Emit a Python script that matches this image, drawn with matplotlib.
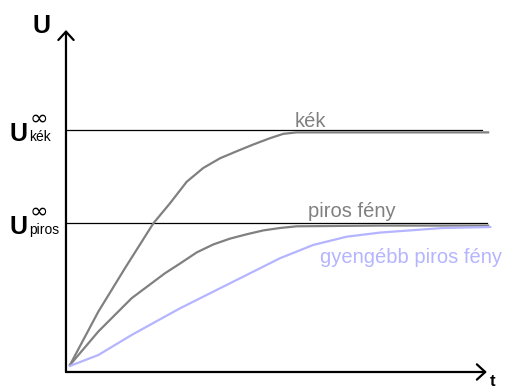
import matplotlib
matplotlib.use("Agg")
import matplotlib.pyplot as plt

plt.rcParams['font.family'] = ['Liberation Sans', 'DejaVu Sans']

# time (arbitrary units) and photovoltage, normalised to the blue saturation value
t_kek = [0.095, 0.769, 1.405, 2.079, 2.476, 2.874, 3.269, 3.667, 4.064, 4.460,
         4.857, 5.174, 5.493, 10.05]
u_kek = [0.029, 0.249, 0.429, 0.614, 0.697, 0.786, 0.843, 0.883, 0.912, 0.940,
         0.966, 0.984, 0.990, 0.990]

t_piros = [0.095, 0.769, 1.564, 2.357, 2.714, 3.112, 3.507, 3.905, 4.302, 4.698,
           5.095, 5.493, 7.476, 10.05]
u_piros = [0.029, 0.167, 0.305, 0.408, 0.448, 0.494, 0.527, 0.551, 0.569, 0.585,
           0.595, 0.602, 0.605, 0.605]

t_gyenge = [0.095, 0.769, 1.564, 2.357, 2.714, 3.507, 4.302, 5.095, 5.888, 6.683,
            7.476, 8.976, 10.1]
u_gyenge = [0.025, 0.070, 0.153, 0.229, 0.263, 0.332, 0.401, 0.470, 0.525, 0.559,
            0.576, 0.595, 0.599]

U_inf_kek = 1.0
U_inf_piros = 0.616
t_end_kek = 9.9
t_end_piros = 10.02

gray = '#808080'
lblue = '#b4b4ff'

fig = plt.figure(figsize=(5.16, 3.9), dpi=100)
ax = fig.add_axes([0, 0, 1, 1])
ax.set_xlim(-1.571, 10.714)
ax.set_ylim(-0.0744, 1.537)
ax.axis('off')

# saturation levels
ax.plot([0, t_end_kek], [U_inf_kek, U_inf_kek], color='black', lw=0.9)
ax.plot([0, t_end_piros], [U_inf_piros, U_inf_piros], color='black', lw=0.9)

# curves
ax.plot(t_kek, u_kek, color=gray, lw=1.6, solid_joinstyle='round')
ax.plot(t_piros, u_piros, color=gray, lw=1.6, solid_joinstyle='round')
ax.plot(t_gyenge, u_gyenge, color=lblue, lw=1.6, solid_joinstyle='round')

# axes with open arrow heads
arrow = dict(arrowstyle='->,head_length=0.6,head_width=0.55', color='black',
             lw=1.6, shrinkA=0, shrinkB=0)
ax.annotate('', xy=(10.02, 0), xytext=(0, 0), arrowprops=arrow)
ax.annotate('', xy=(0, 1.413), xytext=(0, 0), arrowprops=arrow)

ax.text(-0.786, 1.401, 'U', fontsize=18, fontweight='bold', va='baseline')
ax.text(10.1, -0.058, 't', fontsize=12, fontweight='bold', va='baseline')

# axis labels U_inf
px = 1 / 242
for u, sub in [(U_inf_kek, 'kék'), (U_inf_piros, 'piros')]:
    ax.text(-1.333, u - 11 * px, 'U', fontsize=18, fontweight='bold', va='baseline')
    ax.text(-0.86, u + 11 * px, '∞', fontsize=16, va='center', family='DejaVu Sans')
    ax.text(-0.88, u - 11 * px, sub, fontsize=10, va='baseline')

# curve labels
ax.text(5.45, 1.012, 'kék', fontsize=14.5, color=gray, va='baseline')
ax.text(5.76, 0.640, 'piros fény', fontsize=14.5, color=gray, va='baseline')
ax.text(6.05, 0.450, 'gyengébb piros fény', fontsize=14.5, color=lblue, va='baseline')

fig.savefig('out.png', dpi=100)
